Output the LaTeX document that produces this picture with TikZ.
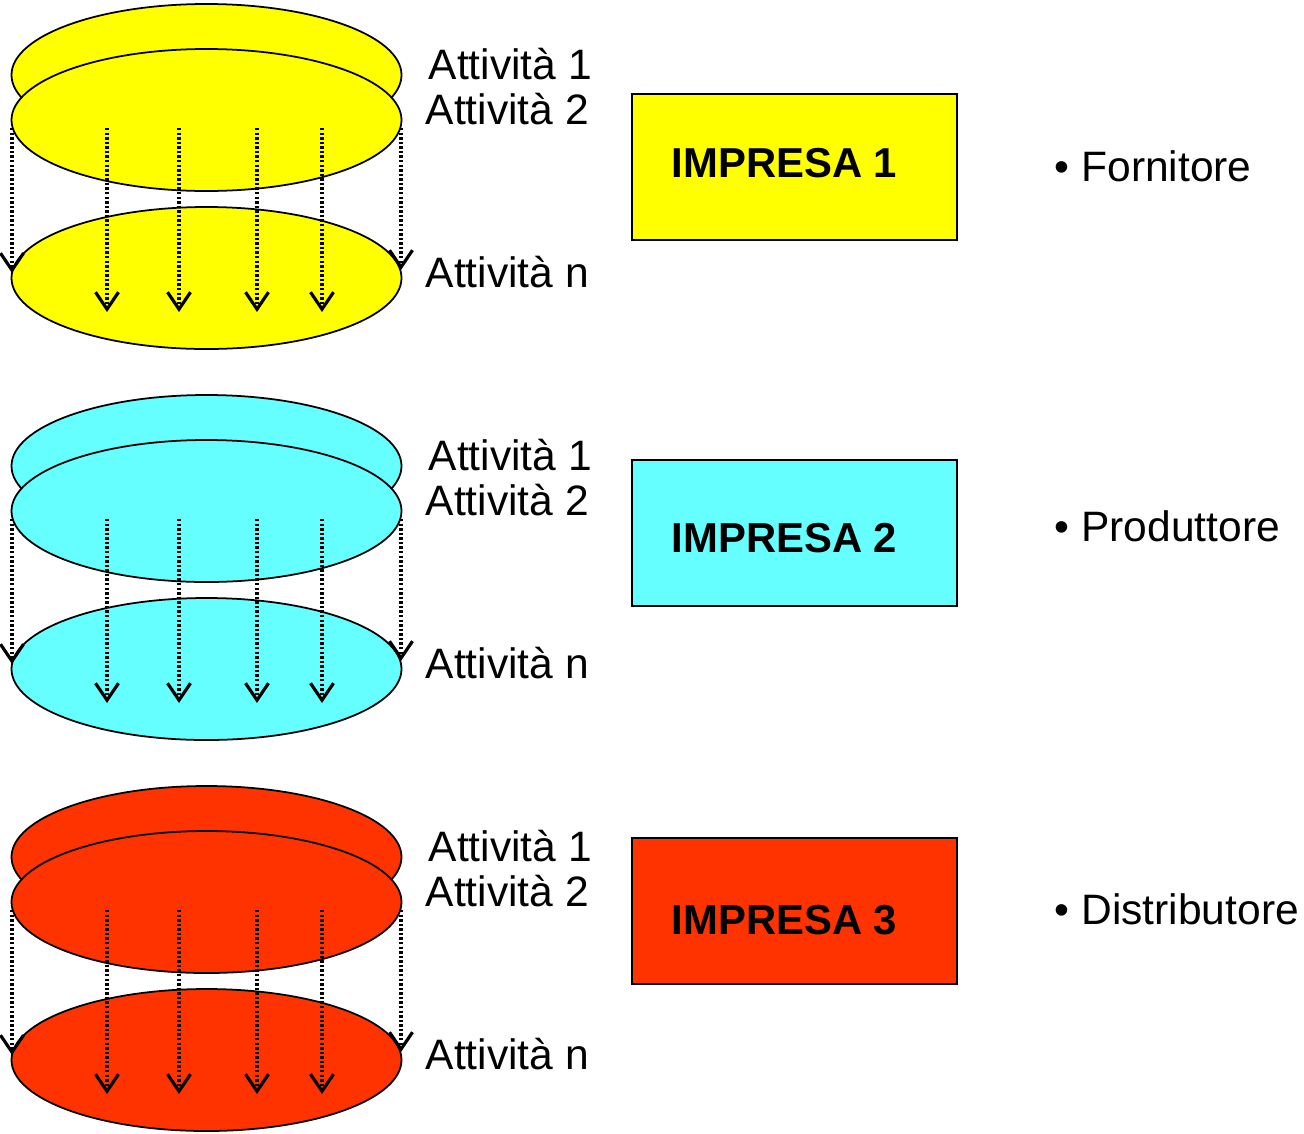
\documentclass[tikz,border=0pt]{standalone}
\usepackage{fontspec}
\setmainfont{Liberation Sans}
\usetikzlibrary{arrows.meta}
\definecolor{giallo}{HTML}{FFFF00}
\definecolor{ciano}{HTML}{66FFFF}
\definecolor{rosso}{HTML}{FF3300}
\tikzset{
  disco/.style={draw,line width=0.5pt},
  freccia/.style={line width=0.9pt,dash pattern=on 0.7pt off 0.6pt,
    -{Straight Barb[length=1.7mm,width=2.3mm,line width=0.9pt]}},
  impresa/.style={draw,line width=0.7pt,minimum width=3.25cm,minimum height=1.46cm,inner sep=0pt},
  testo/.style={font=\fontsize{12.1}{14}\selectfont,anchor=base west,inner sep=0pt}
}
\begin{document}
\begin{tikzpicture}[x=0.01cm,y=-0.01cm]
\useasboundingbox (0,0) rectangle (1304,1133);
\foreach \dy/\col/\bt/\tb/\n/\ruolo/\rb in {0/giallo/94/177/1/Fornitore/181,391/ciano/460/552/2/Produttore/541,782/rosso/838/934/3/Distributore/924}{
  \draw[disco,fill=\col] (206.5,\dy+75) ellipse [x radius=195,y radius=71];
  \draw[disco,fill=\col] (206.5,\dy+120) ellipse [x radius=195,y radius=71];
  \draw[disco,fill=\col] (206.5,\dy+278) ellipse [x radius=195,y radius=71];
  \foreach \x in {107,179,257,322}
    \draw[freccia] (\x,\dy+128) -- (\x,\dy+312);
  \draw[freccia] (12,\dy+128) -- (12,\dy+273);
  \draw[freccia] (401,\dy+128) -- (401,\dy+270);
  \node[testo] (att\n-1) at (428,\dy+79) {Attività 1};
  \node[testo] (att\n-2) at (425,\dy+124) {Attività 2};
  \node[testo] (att\n-n) at (425,\dy+287) {Attività n};
  \node[impresa,fill=\col] (imp\n) at (794.5,\bt+73) {};
  \node[testo,font=\fontsize{11.9}{14}\selectfont\bfseries] (nome\n) at (671,\tb) {IMPRESA \n};
  \node[testo] (ruolo\n) at (1054,\rb) {• \ruolo};
}
\end{tikzpicture}
\end{document}
